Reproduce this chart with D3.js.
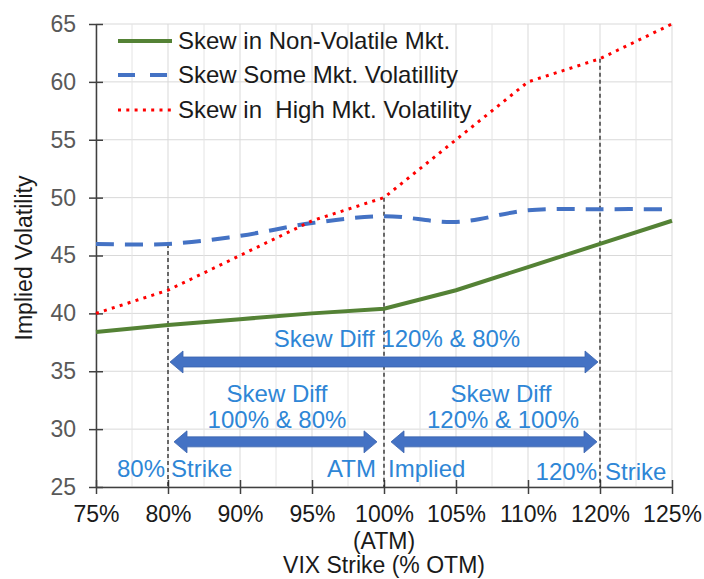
<!DOCTYPE html>
<html><head><meta charset="utf-8">
<script src="https://cdn.jsdelivr.net/npm/d3@7"></script>
<style>body{margin:0;background:#fff}svg{display:block;font-family:"Liberation Sans",Arial,sans-serif}</style>
</head><body><svg id="c" width="704" height="579"></svg>
<script>
const categories = ["75%","80%","90%","95%","100%","105%","110%","120%","125%"];
const nonVolatile = [38.4, 39, 39.5, 40, 40.4, 42, 44, 46, 48];
const someVol = [46, 46, 46.7, 47.8, 48.4, 47.9, 48.9, 49, 49];
const highVol = [40, 42, 45, 48, 50, 55, 60, 62, 65];
const yTicks = [25,30,35,40,45,50,55,60,65];
const seriesNames = ["Skew in Non-Volatile Mkt.","Skew Some Mkt. Volatillity","Skew in  High Mkt. Volatility"];
const dropLines = [{cat:"80%", v:46},{cat:"100%", v:50},{cat:"120%", v:62}];

const svg = d3.select("#c");
const x = d3.scalePoint().domain(categories).range([96, 672]);
const y = d3.scaleLinear().domain([25, 65]).range([487, 24]);
const step = x.step();

// gridlines
const grid = svg.append("g");
yTicks.forEach(t => grid.append("line").attr("x1",96).attr("x2",672).attr("y1",y(t)).attr("y2",y(t)).attr("stroke","#d9d9d9").attr("stroke-width",1));
categories.forEach((c,i) => {
  grid.append("line").attr("x1",x(c)).attr("x2",x(c)).attr("y1",y(65)).attr("y2",y(25)).attr("stroke","#d9d9d9");
  if (i < categories.length-1) grid.append("line").attr("x1",x(c)+step/2).attr("x2",x(c)+step/2).attr("y1",y(65)).attr("y2",y(25)).attr("stroke","#e4e4e4");
});

// axes
const ya = svg.append("g").attr("transform","translate(96,0)").call(d3.axisLeft(y).tickValues(yTicks).tickSize(7).tickSizeOuter(0).tickPadding(13));
ya.select(".domain").attr("stroke","#404040").attr("stroke-width",1.5);
ya.selectAll(".tick line").attr("x1",7).attr("stroke","#404040").attr("stroke-width",1.5);
ya.selectAll(".tick text").attr("font-size",23).attr("fill","#595959").attr("font-family","Liberation Sans, Arial");

const xa = svg.append("g").attr("transform","translate(0,487)").call(d3.axisBottom(x).tickSize(7).tickSizeOuter(0).tickPadding(12));
xa.select(".domain").attr("stroke","#404040").attr("stroke-width",1.5);
xa.selectAll(".tick line").attr("y1",-7).attr("stroke","#404040").attr("stroke-width",1.5);
xa.selectAll(".tick text").attr("font-size",23).attr("fill","#1a1a1a").attr("font-family","Liberation Sans, Arial");

svg.append("text").attr("x",x("100%")).attr("y",549).attr("text-anchor","middle").attr("font-size",23).attr("fill","#1a1a1a").text("(ATM)");
svg.append("text").attr("x",x("100%")).attr("y",573).attr("text-anchor","middle").attr("font-size",23).attr("fill","#1a1a1a").text("VIX Strike (% OTM)");
svg.append("text").attr("transform","translate(32,258) rotate(-90)").attr("text-anchor","middle").attr("font-size",23).attr("fill","#1a1a1a").text("Implied Volatility");

// drop lines
dropLines.forEach(d => svg.append("line").attr("x1",x(d.cat)).attr("x2",x(d.cat)).attr("y1",y(d.v)).attr("y2",y(25)).attr("stroke","#222").attr("stroke-width",1.3).attr("stroke-dasharray","4,3"));

// series
const line = d3.line().x((d,i)=>x(categories[i])).y(d=>y(d));
const lineSmooth = d3.line().x((d,i)=>x(categories[i])).y(d=>y(d)).curve(d3.curveCatmullRom.alpha(0.5));
svg.append("path").attr("d",line(nonVolatile)).attr("fill","none").attr("stroke","#548235").attr("stroke-width",4);
svg.append("path").attr("d",lineSmooth(someVol)).attr("fill","none").attr("stroke","#4472c4").attr("stroke-width",4).attr("stroke-dasharray","18,11");
svg.append("path").attr("d",line(highVol)).attr("fill","none").attr("stroke","#ff0000").attr("stroke-width",3).attr("stroke-dasharray","3,5.3");

// legend
const legY = [41, 75, 110];
const lg = svg.append("g");
lg.append("line").attr("x1",118).attr("x2",172).attr("y1",legY[0]).attr("y2",legY[0]).attr("stroke","#548235").attr("stroke-width",4);
lg.append("line").attr("x1",118).attr("x2",174).attr("y1",legY[1]).attr("y2",legY[1]).attr("stroke","#4472c4").attr("stroke-width",4).attr("stroke-dasharray","17,15");
lg.append("line").attr("x1",118).attr("x2",172).attr("y1",legY[2]).attr("y2",legY[2]).attr("stroke","#ff0000").attr("stroke-width",3).attr("stroke-dasharray","3,5.3");
seriesNames.forEach((n,i)=> lg.append("text").attr("x",178).attr("y",legY[i]).attr("dy","0.35em").attr("font-size",24).attr("fill","#1a1a1a").style("white-space","pre").attr("xml:space","preserve").text(n));

// arrows
function dblArrow(xl, xr, yc){
  const hl = 13, hh = 11, sh = 5;
  const p = `M${xl},${yc} L${xl+hl},${yc-hh} L${xl+hl},${yc-sh} L${xr-hl},${yc-sh} L${xr-hl},${yc-hh} L${xr},${yc} L${xr-hl},${yc+hh} L${xr-hl},${yc+sh} L${xl+hl},${yc+sh} L${xl+hl},${yc+hh} Z`;
  svg.append("path").attr("d",p).attr("fill","#4472c4").attr("stroke","#3a63ad").attr("stroke-width",0.8);
}
dblArrow(x("80%")+2, x("120%")-2, y(35.8));
dblArrow(x("80%")+6, x("100%")-7, y(28.9));
dblArrow(x("100%")+7, x("120%")-3, y(28.9));

const ann = "#2e86d6";
function t(xp, yp, s, anchor){ svg.append("text").attr("x",xp).attr("y",yp).attr("text-anchor",anchor||"middle").attr("font-size",24).attr("fill",ann).text(s); }
t(397, 347, "Skew Diff 120% & 80%");
t(277, 402, "Skew Diff");
t(277, 428, "100% & 80%");
t(501, 402, "Skew Diff");
t(503, 428, "120% & 100%");
t(x("80%")-3, 477, "80%", "end");
t(x("80%")+3, 477, "Strike", "start");
t(x("100%")-8, 477, "ATM", "end");
t(x("100%")+4, 477, "Implied", "start");
t(x("120%")-3, 480, "120%", "end");
t(x("120%")+5, 480, "Strike", "start");
</script></body></html>
